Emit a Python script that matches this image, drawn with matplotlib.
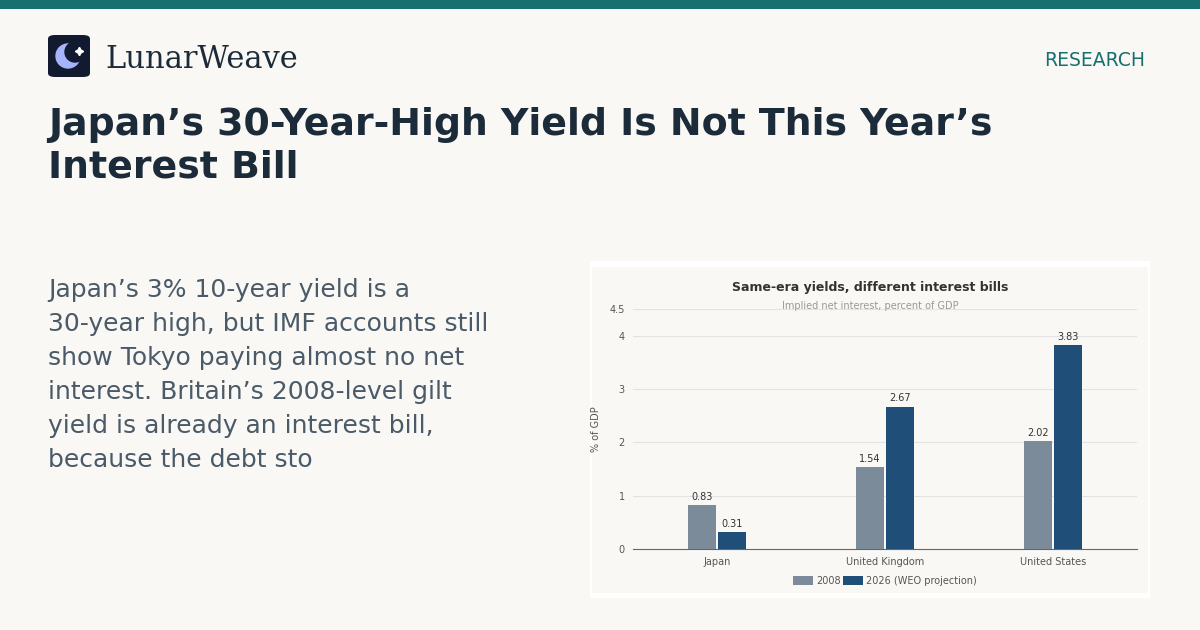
import matplotlib
matplotlib.use("Agg")
import matplotlib.pyplot as plt
from matplotlib.patches import FancyBboxPatch, Circle, Rectangle
import numpy as np

plt.rcParams["font.family"] = ["DejaVu Sans"]

categories = ["Japan", "United Kingdom", "United States"]
series_names = ["2008", "2026 (WEO projection)"]
v2008 = [0.83, 1.54, 2.02]
v2026 = [0.31, 2.67, 3.83]
yticks = [0, 1, 2, 3, 4, 4.5]
ytick_labels = ["0", "1", "2", "3", "4", "4.5"]

W, H = 1200, 630
fig = plt.figure(figsize=(12, 6.3), dpi=100)
fig.patch.set_facecolor("#f9f8f4")

def fx(x): return x / W
def fy(y): return 1 - y / H

def bg(artist):
    artist.set_zorder(-5)
    fig.add_artist(artist)

# top bar
bg(Rectangle((0, fy(9)), 1, 9 / H, transform=fig.transFigure, color="#16706f", lw=0))

# logo
bg(FancyBboxPatch((fx(48), fy(77)), 42 / W, 42 / H, boxstyle="round,pad=0,rounding_size=0.006",
                  transform=fig.transFigure, color="#111a2e", lw=0))
lax = fig.add_axes([fx(48), fy(77), 42 / W, 42 / H])
lax.set_xlim(0, 42); lax.set_ylim(42, 0); lax.axis("off")
lax.add_patch(Circle((20, 21), 12, color="#a5b4fc"))
lax.add_patch(Circle((27, 17), 10, color="#111a2e"))
lax.plot([31], [16], marker=(4, 1, 0), color="white", markersize=6, lw=0)
fig.text(fx(105), fy(60), "LunarWeave", family="DejaVu Serif", fontsize=22, color="#1c2b3a", va="center")
fig.text(fx(1145), fy(61), "RESEARCH", fontsize=13.5, color="#16706f", va="center", ha="right")

fig.text(fx(48), fy(146), "Japan\u2019s 30-Year-High Yield Is Not This Year\u2019s\nInterest Bill", fontsize=27.3,
         fontweight="bold", color="#1c2b3a", va="center", linespacing=1.25)

fig.text(fx(48), fy(375), "Japan\u2019s 3% 10-year yield is a\n30-year high, but IMF accounts still\n"
         "show Tokyo paying almost no net\ninterest. Britain\u2019s 2008-level gilt\n"
         "yield is already an interest bill,\nbecause the debt sto",
         fontsize=18, color="#4a5a68", va="center", linespacing=1.53)

# chart panel
bg(Rectangle((fx(590), fy(598)), 560 / W, 337 / H, transform=fig.transFigure, color="#ffffff", lw=0))
bg(Rectangle((fx(592), fy(593)), 556 / W, 326 / H, transform=fig.transFigure, color="#f9f8f4", lw=0))
fig.text(fx(870), fy(288), "Same-era yields, different interest bills", fontsize=9, fontweight="bold",
         color="#333333", ha="center", va="center")
fig.text(fx(870), fy(306), "Implied net interest, percent of GDP", fontsize=7, color="#999999", ha="center", va="center")

ax = fig.add_axes([fx(633), fy(549), 504 / W, 240 / H])
ax.set_facecolor("none")
x = np.arange(len(categories))
w = 0.167
b1 = ax.bar(x - 0.09, v2008, w, color="#7b8b9a", label=series_names[0], zorder=3)
b2 = ax.bar(x + 0.09, v2026, w, color="#1f4e79", label=series_names[1], zorder=3)
for bars, vals in ((b1, v2008), (b2, v2026)):
    for r, v in zip(bars, vals):
        ax.text(r.get_x() + r.get_width() / 2, v + 0.06, f"{v:.2f}", ha="center", va="bottom", fontsize=7, color="#333333")
ax.set_xlim(-0.5, 2.5)
ax.set_ylim(0, 4.5)
ax.set_yticks(yticks)
ax.set_yticklabels(ytick_labels)
ax.set_xticks(x)
ax.set_xticklabels(categories)
ax.tick_params(length=0, labelsize=7, colors="#555555", pad=6)
ax.grid(axis="y", color="#e3e3e6", lw=0.8, zorder=0)
for s in ["top", "right", "left"]:
    ax.spines[s].set_visible(False)
ax.spines["bottom"].set_color("#666666")
ax.set_ylabel("% of GDP", fontsize=7, color="#555555", labelpad=6)
ax.legend(loc="upper center", bbox_to_anchor=(0.5, -0.075), ncol=2, frameon=False, fontsize=7,
          handlelength=2, handleheight=1, handletextpad=0.3, columnspacing=0.3, labelcolor="#555555")

fig.savefig("out.png", dpi=100, facecolor=fig.get_facecolor())
